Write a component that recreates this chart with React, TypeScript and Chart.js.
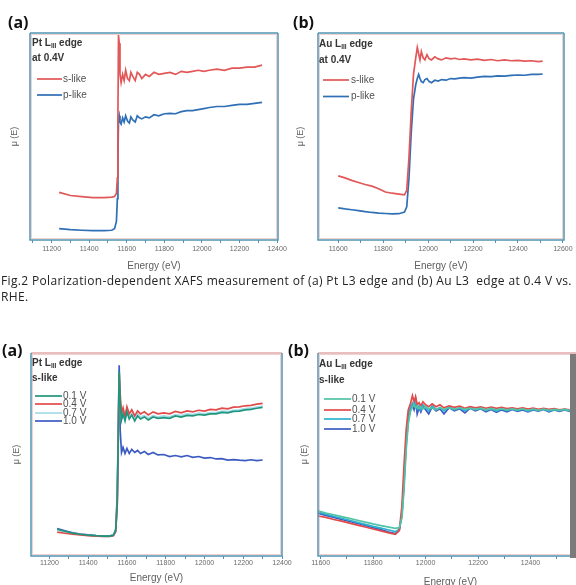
import React, { useEffect, useRef } from 'react';
import { Chart, registerables } from 'chart.js';

Chart.register(...registerables);

const FONT = '"Liberation Sans", Arial, Helvetica, sans-serif';

// ---------- (a) top: Pt L3 edge at 0.4 V ----------
const energyPtTop = [11240, 11300, 11360, 11420, 11480, 11520, 11535, 11545, 11550, 11553, 11556, 11560, 11564, 11570, 11578, 11586, 11594, 11604, 11614, 11622, 11632, 11645, 11656, 11668, 11680, 11700, 11720, 11745, 11770, 11800, 11830, 11860, 11890, 11920, 11950, 11980, 12010, 12040, 12080, 12120, 12160, 12200, 12240, 12280, 12320];
const muPtSLike = [0.23, 0.215, 0.21, 0.205, 0.205, 0.207, 0.21, 0.225, 0.30, 0.60, 0.99, 0.95, 0.80, 0.76, 0.80, 0.77, 0.82, 0.78, 0.77, 0.81, 0.79, 0.77, 0.81, 0.80, 0.78, 0.80, 0.79, 0.81, 0.80, 0.805, 0.81, 0.80, 0.815, 0.81, 0.815, 0.82, 0.815, 0.82, 0.825, 0.82, 0.83, 0.83, 0.835, 0.835, 0.845];
const muPtPLike = [0.055, 0.05, 0.047, 0.045, 0.045, 0.047, 0.055, 0.09, 0.20, 0.40, 0.58, 0.60, 0.57, 0.56, 0.59, 0.57, 0.60, 0.575, 0.565, 0.595, 0.58, 0.57, 0.60, 0.59, 0.585, 0.595, 0.59, 0.605, 0.60, 0.61, 0.612, 0.61, 0.62, 0.625, 0.625, 0.63, 0.635, 0.64, 0.645, 0.645, 0.65, 0.655, 0.655, 0.66, 0.665];

// ---------- (b) top: Au L3 edge at 0.4 V ----------
const energyAuTop = [11600, 11630, 11660, 11690, 11720, 11750, 11780, 11810, 11840, 11870, 11895, 11905, 11915, 11925, 11935, 11945, 11952, 11958, 11964, 11970, 11978, 11986, 11995, 12005, 12015, 12030, 12045, 12060, 12080, 12100, 12120, 12140, 12160, 12190, 12220, 12250, 12280, 12310, 12340, 12370, 12400, 12430, 12460, 12490, 12510];
const muAuSLike = [0.31, 0.30, 0.288, 0.278, 0.268, 0.26, 0.248, 0.232, 0.226, 0.222, 0.218, 0.24, 0.40, 0.62, 0.80, 0.88, 0.93, 0.90, 0.87, 0.91, 0.88, 0.87, 0.895, 0.875, 0.87, 0.885, 0.875, 0.87, 0.88, 0.875, 0.878, 0.872, 0.875, 0.87, 0.874, 0.868, 0.872, 0.866, 0.87, 0.866, 0.868, 0.864, 0.866, 0.862, 0.864];
const muAuPLike = [0.155, 0.15, 0.146, 0.142, 0.137, 0.133, 0.13, 0.128, 0.126, 0.127, 0.135, 0.16, 0.30, 0.52, 0.68, 0.75, 0.78, 0.80, 0.78, 0.765, 0.76, 0.775, 0.78, 0.765, 0.76, 0.772, 0.768, 0.775, 0.772, 0.78, 0.778, 0.782, 0.784, 0.782, 0.787, 0.79, 0.789, 0.793, 0.792, 0.795, 0.797, 0.796, 0.80, 0.80, 0.802];

// ---------- (a) bottom: Pt L3 edge, s-like, potentials ----------
const energyPtBottom = [11240, 11280, 11320, 11360, 11400, 11440, 11480, 11510, 11530, 11542, 11550, 11555, 11560, 11565, 11572, 11580, 11590, 11600, 11612, 11625, 11640, 11655, 11670, 11690, 11710, 11735, 11760, 11790, 11820, 11850, 11880, 11910, 11940, 11970, 12000, 12030, 12060, 12090, 12120, 12150, 12180, 12210, 12240, 12270, 12300];
const muPt01V = [0.132, 0.122, 0.113, 0.107, 0.103, 0.10, 0.098, 0.098, 0.102, 0.125, 0.27, 0.57, 0.91, 0.76, 0.67, 0.70, 0.665, 0.71, 0.675, 0.695, 0.665, 0.69, 0.675, 0.685, 0.67, 0.685, 0.678, 0.682, 0.678, 0.69, 0.684, 0.693, 0.69, 0.697, 0.694, 0.70, 0.70, 0.707, 0.705, 0.712, 0.714, 0.72, 0.722, 0.728, 0.732];
const muPt04V = [0.118, 0.112, 0.107, 0.104, 0.10, 0.098, 0.096, 0.097, 0.10, 0.12, 0.25, 0.55, 0.90, 0.80, 0.70, 0.73, 0.69, 0.735, 0.70, 0.72, 0.69, 0.715, 0.70, 0.71, 0.695, 0.71, 0.70, 0.705, 0.70, 0.712, 0.705, 0.715, 0.71, 0.718, 0.714, 0.722, 0.72, 0.728, 0.725, 0.733, 0.735, 0.74, 0.742, 0.748, 0.752];
const muPt07V = [0.128, 0.118, 0.11, 0.105, 0.101, 0.099, 0.097, 0.097, 0.101, 0.122, 0.26, 0.56, 0.905, 0.77, 0.68, 0.71, 0.675, 0.715, 0.685, 0.70, 0.675, 0.70, 0.685, 0.692, 0.68, 0.692, 0.685, 0.69, 0.686, 0.697, 0.692, 0.70, 0.697, 0.704, 0.70, 0.707, 0.707, 0.714, 0.712, 0.718, 0.72, 0.726, 0.728, 0.734, 0.738];
const muPt10V = [0.135, 0.124, 0.114, 0.108, 0.104, 0.101, 0.099, 0.099, 0.103, 0.13, 0.30, 0.62, 0.94, 0.62, 0.51, 0.535, 0.505, 0.53, 0.505, 0.525, 0.51, 0.52, 0.505, 0.515, 0.50, 0.51, 0.498, 0.50, 0.49, 0.495, 0.488, 0.495, 0.486, 0.49, 0.482, 0.485, 0.478, 0.48, 0.472, 0.475, 0.472, 0.47, 0.474, 0.47, 0.473];

// ---------- (b) bottom: Au L3 edge, s-like, potentials ----------
const energyAuBottom = [11590, 11620, 11650, 11680, 11710, 11740, 11770, 11800, 11830, 11860, 11885, 11900, 11910, 11918, 11926, 11934, 11942, 11950, 11956, 11962, 11968, 11975, 11982, 11990, 12000, 12012, 12025, 12040, 12055, 12070, 12090, 12110, 12130, 12150, 12170, 12190, 12210, 12230, 12250, 12270, 12290, 12310, 12330, 12350, 12370, 12390, 12410, 12430, 12450, 12470, 12490, 12510, 12530, 12550, 12570, 12590];
const muAu01V = [0.222, 0.212, 0.203, 0.194, 0.185, 0.176, 0.167, 0.158, 0.15, 0.142, 0.136, 0.14, 0.19, 0.33, 0.52, 0.65, 0.71, 0.735, 0.745, 0.73, 0.74, 0.725, 0.735, 0.725, 0.735, 0.725, 0.73, 0.72, 0.73, 0.722, 0.73, 0.724, 0.73, 0.722, 0.728, 0.722, 0.728, 0.72, 0.727, 0.72, 0.726, 0.72, 0.725, 0.72, 0.725, 0.718, 0.724, 0.718, 0.723, 0.718, 0.722, 0.718, 0.722, 0.717, 0.72, 0.717];
const muAu04V = [0.197, 0.19, 0.18, 0.172, 0.162, 0.152, 0.143, 0.133, 0.124, 0.114, 0.107, 0.125, 0.25, 0.45, 0.62, 0.72, 0.75, 0.79, 0.76, 0.785, 0.745, 0.755, 0.74, 0.76, 0.745, 0.735, 0.75, 0.735, 0.745, 0.73, 0.74, 0.732, 0.738, 0.728, 0.736, 0.73, 0.735, 0.728, 0.733, 0.727, 0.732, 0.726, 0.73, 0.725, 0.73, 0.724, 0.728, 0.722, 0.727, 0.722, 0.726, 0.72, 0.724, 0.72, 0.723, 0.72];
const muAu07V = [0.216, 0.206, 0.196, 0.186, 0.176, 0.166, 0.156, 0.146, 0.137, 0.128, 0.12, 0.132, 0.21, 0.38, 0.57, 0.69, 0.735, 0.755, 0.74, 0.76, 0.725, 0.74, 0.72, 0.745, 0.73, 0.715, 0.74, 0.722, 0.732, 0.715, 0.735, 0.72, 0.73, 0.715, 0.73, 0.72, 0.728, 0.716, 0.726, 0.714, 0.724, 0.716, 0.725, 0.716, 0.724, 0.714, 0.722, 0.716, 0.724, 0.714, 0.722, 0.715, 0.722, 0.715, 0.722, 0.716];
const muAu10V = [0.21, 0.20, 0.19, 0.18, 0.17, 0.16, 0.15, 0.14, 0.13, 0.118, 0.11, 0.13, 0.20, 0.36, 0.55, 0.67, 0.72, 0.74, 0.72, 0.77, 0.70, 0.73, 0.71, 0.74, 0.72, 0.70, 0.735, 0.715, 0.725, 0.70, 0.73, 0.715, 0.725, 0.705, 0.728, 0.715, 0.725, 0.71, 0.722, 0.708, 0.72, 0.71, 0.722, 0.712, 0.72, 0.71, 0.72, 0.714, 0.722, 0.71, 0.72, 0.712, 0.72, 0.713, 0.72, 0.714];

// ---------- labels / ticks ----------
const ticksPtTop = [11200, 11400, 11600, 11800, 12000, 12200, 12400];
const ticksAuTop = [11600, 11800, 12000, 12200, 12400, 12600];
const ticksPtBottom = [11200, 11400, 11600, 11800, 12000, 12200, 12400];
const ticksAuBottom = [11600, 11800, 12000, 12200, 12400];
const labelsPolarization = ['s-like', 'p-like'];
const labelsPotential = ['0.1 V', '0.4 V', '0.7 V', '1.0 V'];
const xAxisTitle = 'Energy (eV)';
const yAxisTitle = 'μ (E)';
const caption1 = 'Fig.2 Polarization-dependent XAFS measurement of (a) Pt L3 edge and (b) Au L3  edge at 0.4 V vs.';
const caption2 = 'RHE.';

const TEAL = '#4f95b2';
const PINK_EDGE = '#e0a9a9';

type Seg = { t: string; sub?: boolean };
type PanelCfg = {
  left: number; top: number; w: number; h: number;
  pad: { left: number; top: number; right: number; bottom: number };
  yAxisW: number; xAxisH: number; yTitlePad: number; xTitlePad: number; tickPad: number;
  xMin: number; xMax: number; ticks: number[];
  series: { label: string; x: number[]; y: number[]; color: string }[];
  title: Seg[][]; titleX: number; titleDy: number[];
  legendDy: number[]; lineX0: number; lineX1: number; textX: number;
  topColor: string;
};

const zip = (xs: number[], ys: number[]) => xs.map((x, i) => ({ x, y: ys[i] }));

const RED = '#e25757';
const BLUE = '#2f6fb6';

const panels: PanelCfg[] = [
  {
    left: 0, top: 28, w: 288, h: 252,
    pad: { left: 0, top: 5, right: 10, bottom: 0 },
    yAxisW: 30, xAxisH: 40, yTitlePad: 9.6, xTitlePad: 7.5, tickPad: 2.2,
    xMin: 11085, xMax: 12405, ticks: ticksPtTop,
    series: [
      { label: labelsPolarization[0], x: energyPtTop, y: muPtSLike, color: RED },
      { label: labelsPolarization[1], x: energyPtTop, y: muPtPLike, color: BLUE },
    ],
    title: [[{ t: 'Pt L' }, { t: 'III', sub: true }, { t: ' edge' }], [{ t: 'at 0.4V' }]],
    titleX: 2, titleDy: [10, 25], legendDy: [46, 62], lineX0: 7, lineX1: 32, textX: 33,
    topColor: TEAL,
  },
  {
    left: 288, top: 28, w: 288, h: 252,
    pad: { left: 0, top: 5, right: 12, bottom: 0 },
    yAxisW: 30, xAxisH: 40, yTitlePad: 7.6, xTitlePad: 7.5, tickPad: 2.2,
    xMin: 11510, xMax: 12605, ticks: ticksAuTop,
    series: [
      { label: labelsPolarization[0], x: energyAuTop, y: muAuSLike, color: RED },
      { label: labelsPolarization[1], x: energyAuTop, y: muAuPLike, color: BLUE },
    ],
    title: [[{ t: 'Au L' }, { t: 'III', sub: true }, { t: ' edge' }], [{ t: 'at 0.4V' }]],
    titleX: 1, titleDy: [11, 27], legendDy: [47, 63.5], lineX0: 5, lineX1: 31, textX: 33,
    topColor: TEAL,
  },
  {
    left: 0, top: 330, w: 300, h: 255,
    pad: { left: 0, top: 23, right: 18, bottom: 0 },
    yAxisW: 31, xAxisH: 29, yTitlePad: 11.3, xTitlePad: 1, tickPad: 0,
    xMin: 11105, xMax: 12400, ticks: ticksPtBottom,
    series: [
      { label: labelsPotential[0], x: energyPtBottom, y: muPt01V, color: '#1f957c' },
      { label: labelsPotential[1], x: energyPtBottom, y: muPt04V, color: '#e24a4a' },
      { label: labelsPotential[2], x: energyPtBottom, y: muPt07V, color: '#a3dcea' },
      { label: labelsPotential[3], x: energyPtBottom, y: muPt10V, color: '#3c5bc2' },
    ],
    title: [[{ t: 'Pt L' }, { t: 'III', sub: true }, { t: ' edge' }], [{ t: 's-like' }]],
    titleX: 1, titleDy: [10, 25], legendDy: [43, 51, 60, 68], lineX0: 4, lineX1: 31, textX: 32,
    topColor: PINK_EDGE,
  },
  {
    left: 288, top: 330, w: 300, h: 262,
    pad: { left: 0, top: 23, right: 5, bottom: 0 },
    yAxisW: 30, xAxisH: 36, yTitlePad: 10.9, xTitlePad: 4, tickPad: 0,
    xMin: 11590, xMax: 12600, ticks: ticksAuBottom,
    series: [
      { label: labelsPotential[0], x: energyAuBottom, y: muAu01V, color: '#52c3a6' },
      { label: labelsPotential[1], x: energyAuBottom, y: muAu04V, color: '#e24a4a' },
      { label: labelsPotential[2], x: energyAuBottom, y: muAu07V, color: '#2fb1cf' },
      { label: labelsPotential[3], x: energyAuBottom, y: muAu10V, color: '#3c5bc2' },
    ],
    title: [[{ t: 'Au L' }, { t: 'III', sub: true }, { t: ' edge' }], [{ t: 's-like' }]],
    titleX: 1, titleDy: [11, 27], legendDy: [46, 57, 66, 76], lineX0: 6, lineX1: 33, textX: 34,
    topColor: PINK_EDGE,
  },
];

function makeDecor(cfg: PanelCfg) {
  return {
    id: 'panelDecor',
    afterDatasetsDraw(chart: any) {
      const { ctx, chartArea: a } = chart;
      ctx.save();
      // faint pink fringe inside the frame (scan colour bleed)
      ctx.strokeStyle = 'rgba(228,150,150,0.45)';
      ctx.lineWidth = 1;
      ctx.strokeRect(a.left + 1.5, a.top + 1.5, a.right - a.left - 3, a.bottom - a.top - 3);
      ctx.lineWidth = 1.5;
      ctx.strokeStyle = cfg.topColor;
      ctx.beginPath(); ctx.moveTo(a.left, a.top); ctx.lineTo(a.right, a.top); ctx.stroke();
      ctx.strokeStyle = TEAL;
      ctx.beginPath();
      ctx.moveTo(a.left, a.top); ctx.lineTo(a.left, a.bottom); ctx.lineTo(a.right, a.bottom); ctx.lineTo(a.right, a.top);
      ctx.stroke();

      // in-plot title
      ctx.textBaseline = 'middle';
      ctx.textAlign = 'left';
      ctx.fillStyle = '#353535';
      cfg.title.forEach((line, i) => {
        let x = a.left + cfg.titleX;
        const y = a.top + cfg.titleDy[i];
        line.forEach((seg) => {
          ctx.font = seg.sub ? `bold 6.5px ${FONT}` : `bold 10px ${FONT}`;
          ctx.fillText(seg.t, x, seg.sub ? y + 3 : y);
          x += ctx.measureText(seg.t).width;
        });
      });
      // legend
      chart.data.datasets.forEach((ds: any, i: number) => {
        const y = a.top + cfg.legendDy[i];
        ctx.strokeStyle = ds.borderColor;
        ctx.lineWidth = 1.7;
        ctx.beginPath();
        ctx.moveTo(a.left + cfg.lineX0, y);
        ctx.lineTo(a.left + cfg.lineX1, y);
        ctx.stroke();
        ctx.font = `10px ${FONT}`;
        ctx.fillStyle = '#505050';
        ctx.fillText(ds.label, a.left + cfg.textX, y);
      });
      ctx.restore();
    },
  };
}

function Panel({ cfg }: { cfg: PanelCfg }) {
  const ref = useRef<HTMLCanvasElement>(null);
  useEffect(() => {
    const labeled = cfg.ticks;
    const step = labeled[1] - labeled[0];
    const chart = new Chart(ref.current as HTMLCanvasElement, {
      type: 'line',
      data: {
        datasets: cfg.series.map((s) => ({
          label: s.label,
          data: zip(s.x, s.y),
          borderColor: s.color,
          backgroundColor: s.color,
          borderWidth: 1.7,
          pointRadius: 0,
          tension: 0,
          fill: false,
        })),
      },
      options: {
        responsive: false,
        animation: false,
        devicePixelRatio: 1,
        layout: { padding: cfg.pad },
        plugins: { legend: { display: false }, tooltip: { enabled: false }, title: { display: false } },
        scales: {
          x: {
            type: 'linear',
            min: cfg.xMin,
            max: cfg.xMax,
            afterBuildTicks: (axis: any) => {
              const vals: number[] = [];
              for (let v = labeled[0] - step / 2; v <= axis.max + 1e-6; v += step / 2) {
                if (v >= axis.min - 1e-6) vals.push(v);
              }
              axis.ticks = vals.map((v) => ({ value: v }));
            },
            afterFit: (axis: any) => {
              axis.height = cfg.xAxisH;
              axis.paddingLeft = 0;
              axis.paddingRight = 0;
            },
            ticks: {
              autoSkip: false,
              maxRotation: 0,
              minRotation: 0,
              padding: cfg.tickPad,
              color: '#6a6a6a',
              font: { size: 7, family: FONT },
              callback: (v: any) => (labeled.includes(Number(v)) ? String(v) : ''),
            },
            grid: { drawOnChartArea: false, drawTicks: true, tickLength: 3, color: TEAL, lineWidth: 1 },
            border: { display: false },
            title: {
              display: true,
              text: xAxisTitle,
              color: '#606060',
              font: { size: 10, family: FONT },
              padding: { top: 0, bottom: cfg.xTitlePad },
            },
          },
          y: {
            type: 'linear',
            min: 0,
            max: 1,
            afterFit: (axis: any) => {
              axis.width = cfg.yAxisW;
            },
            ticks: { display: false },
            grid: { display: false },
            border: { display: false },
            title: {
              display: true,
              text: yAxisTitle,
              color: '#606060',
              font: { size: 9, family: FONT },
              padding: { top: cfg.yTitlePad, bottom: 0 },
            },
          },
        },
      } as any,
      plugins: [makeDecor(cfg)],
    });
    return () => chart.destroy();
  }, [cfg]);
  return (
    <canvas
      ref={ref}
      width={cfg.w}
      height={cfg.h}
      style={{ position: 'absolute', left: cfg.left, top: cfg.top, width: cfg.w, height: cfg.h }}
    />
  );
}

const panelLetter: React.CSSProperties = {
  position: 'absolute',
  fontFamily: '"Open Sans", "Liberation Sans", Arial, sans-serif',
  fontWeight: 700,
  fontSize: 16,
  lineHeight: '16px',
  color: '#111',
};

export default function App() {
  return (
    <div
      style={{
        position: 'absolute',
        left: 0,
        top: 0,
        width: 576,
        height: 585,
        overflow: 'hidden',
        background: '#fff',
      }}
    >
      {panels.map((p, i) => (
        <Panel key={i} cfg={p} />
      ))}
      <div style={{ ...panelLetter, left: 8, top: 14 }}>(a)</div>
      <div style={{ ...panelLetter, left: 293, top: 14 }}>(b)</div>
      <div style={{ ...panelLetter, left: 2, top: 342 }}>(a)</div>
      <div style={{ ...panelLetter, left: 288, top: 342 }}>(b)</div>
      <div style={{ position: 'absolute', left: 570, top: 354, width: 6, height: 204, background: '#7b7b7b' }} />
      <div
        style={{
          position: 'absolute',
          left: 1,
          top: 273,
          fontFamily: '"Open Sans", "Liberation Sans", Arial, sans-serif',
          fontSize: 12,
          letterSpacing: '0.35px',
          lineHeight: '16px',
          color: '#222',
          whiteSpace: 'pre',
        }}
      >
        {caption1}
        {'\n'}
        {caption2}
      </div>
    </div>
  );
}
